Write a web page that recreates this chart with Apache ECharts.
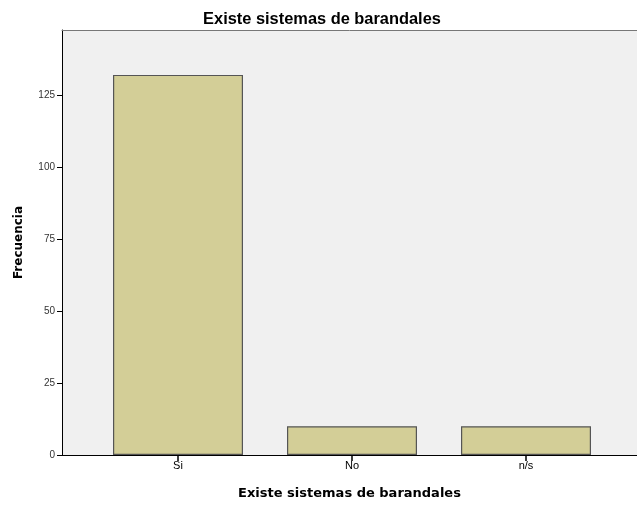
<!DOCTYPE html>
<html><head><meta charset="utf-8">
<script src="https://cdn.jsdelivr.net/npm/echarts@6/dist/echarts.min.js"></script>
<style>html,body{margin:0;padding:0;background:#fff}#c{width:637px;height:506px}</style>
</head><body><div id="c"></div>
<script>
const categories = ['Si', 'No', 'n/s'];
const values = [132, 10, 10];
const yTicks = [0, 25, 50, 75, 100, 125];
const yMax = 147.6;

const chart = echarts.init(document.getElementById('c'));
const font = 'Liberation Sans, Arial, sans-serif';
const bfont = 'DejaVu Sans, sans-serif';
chart.setOption({
  animation: false,
  title: {
    text: 'Existe sistemas de barandales', left: 317, textAlign: 'center', top: 6,
    textStyle: {fontFamily: font, fontSize: 16.4, fontWeight: 'bold', color: '#000'}
  },
  grid: [
    {left: 62, top: 30, right: 0, bottom: 51, show: true, backgroundColor: '#f0f0f0', borderWidth: 0},
    {left: 91, top: 30, width: 522, bottom: 51, show: false}
  ],
  xAxis: [{
    gridIndex: 0, type: 'value', min: 0, max: 1,
    name: 'Existe sistemas de barandales', nameLocation: 'middle', nameGap: 32,
    nameTextStyle: {fontFamily: bfont, fontSize: 13, fontWeight: 'bold', color: '#000'},
    splitLine: {show: false}, axisTick: {show: false}, axisLabel: {show: false},
    axisLine: {show: true, onZero: false, lineStyle: {color: '#000', width: 1}}
  }, {
    gridIndex: 0, type: 'value', position: 'top', min: 0, max: 1,
    splitLine: {show: false}, axisTick: {show: false}, axisLabel: {show: false},
    axisLine: {show: true, onZero: false, lineStyle: {color: '#777', width: 1}}
  }, {
    gridIndex: 1, type: 'category', data: categories, boundaryGap: true, position: 'bottom',
    splitLine: {show: false},
    axisLine: {show: true, onZero: false, lineStyle: {color: '#000', width: 1}},
    axisTick: {show: true, alignWithLabel: true, length: 6, lineStyle: {color: '#000', width: 1.5}},
    axisLabel: {fontFamily: font, fontSize: 11, color: '#000', margin: 5}
  }],
  yAxis: [{
    gridIndex: 0, type: 'value', min: 0, max: yMax, interval: 25,
    name: 'Frecuencia', nameLocation: 'middle', nameGap: 37, nameRotate: 90,
    nameTextStyle: {fontFamily: bfont, fontSize: 12, fontWeight: 'bold', color: '#000'},
    splitLine: {show: false},
    axisLine: {show: true, onZero: false, lineStyle: {color: '#000', width: 1}},
    axisTick: {show: true, length: 5, lineStyle: {color: '#000', width: 1}, customValues: yTicks},
    axisLabel: {fontFamily: font, fontSize: 10, color: '#333', margin: 7, customValues: yTicks}
  }, {
    gridIndex: 1, type: 'value', min: 0, max: yMax, show: false
  }],
  series: [{
    type: 'bar', barWidth: 130, xAxisIndex: 2, yAxisIndex: 1,
    data: values,
    itemStyle: {color: '#d3ce97', borderColor: '#555', borderWidth: 1.2}
  }]
});
</script></body></html>
